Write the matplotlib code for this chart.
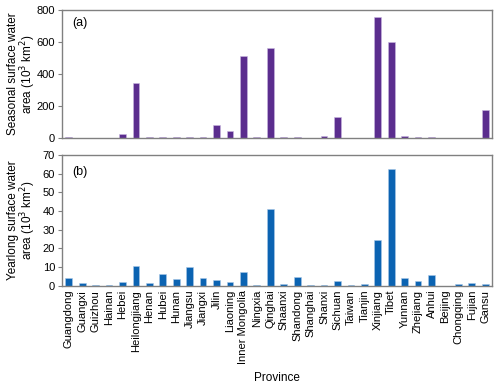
import numpy as np
import matplotlib.pyplot as plt

plt.rcParams['font.family'] = ['Liberation Sans', 'DejaVu Sans']
plt.rcParams['font.size'] = 8

provinces = ["Guangdong", "Guangxi", "Guizhou", "Hainan", "Hebei", "Heilongjiang", "Henan",
             "Hubei", "Hunan", "Jiangsu", "Jiangxi", "Jilin", "Liaoning", "Inner Mongolia",
             "Ningxia", "Qinghai", "Shaanxi", "Shandong", "Shanghai", "Shanxi", "Sichuan",
             "Taiwan", "Tianjin", "Xinjiang", "Tibet", "Yunnan", "Zhejiang", "Anhui",
             "Beijing", "Chongqing", "Fujian", "Gansu"]
seasonal = [5, 3, 1, 1, 23, 342, 5, 10, 7, 10, 7, 79, 43, 510, 5, 563,
            8, 8, 1, 14, 130, 1, 1, 753, 600, 12, 8, 8, 0.5, 1, 1, 175]
yearlong = [4.3, 1.6, 0.5, 0.4, 1.8, 10.4, 1.4, 6.2, 3.4, 10.2, 4.1, 3.2, 2.1, 7.1, 0.2, 41.1,
            0.7, 4.6, 0.1, 0.3, 2.7, 0.5, 0.9, 24.5, 62.7, 4.1, 2.5, 5.7, 0.05, 0.9, 1.25, 0.9]

x = np.arange(len(provinces))

fig = plt.figure(figsize=(5, 3.86), dpi=100)
ax1 = fig.add_axes([0.124, 0.642, 0.86, 0.333])
ax2 = fig.add_axes([0.124, 0.260, 0.86, 0.338])

ax1.bar(x, seasonal, width=0.5, color='#5b2d8e', edgecolor='#c9b8e0', linewidth=0.4)
ax2.bar(x, yearlong, width=0.5, color='#0b63b2', edgecolor='#a9c8e8', linewidth=0.4)

for ax in (ax1, ax2):
    ax.set_xlim(-0.5, len(provinces) - 0.5)
    for s in ax.spines.values():
        s.set_color('#808080')
        s.set_linewidth(1.0)
    ax.tick_params(axis='y', direction='out', length=3, color='#808080', labelsize=8, pad=2)
    ax.tick_params(axis='x', length=0)

ax1.set_ylim(0, 800)
ax1.set_yticks([0, 200, 400, 600, 800])
ax1.set_xticks([])
ax1.set_ylabel("Seasonal surface water\narea (10$^3$ km$^2$)", fontsize=8.5, linespacing=0.95)
ax1.yaxis.set_label_coords(-0.056, 0.5)
ax1.text(0.023, 0.895, "(a)", transform=ax1.transAxes, fontsize=9, va='center')

ax2.set_ylim(0, 70)
ax2.set_yticks(np.arange(0, 71, 10))
ax2.set_xticks(x)
ax2.set_xticklabels(provinces, rotation=90, fontsize=8)
ax2.tick_params(axis='x', pad=3)
ax2.set_ylabel("Yearlong surface water\narea (10$^3$ km$^2$)", fontsize=8.5, linespacing=0.95)
ax2.yaxis.set_label_coords(-0.056, 0.5)
ax2.set_xlabel("Province", fontsize=8.5, labelpad=6)
ax2.text(0.023, 0.87, "(b)", transform=ax2.transAxes, fontsize=9, va='center')

fig.savefig("out.png", dpi=100)
